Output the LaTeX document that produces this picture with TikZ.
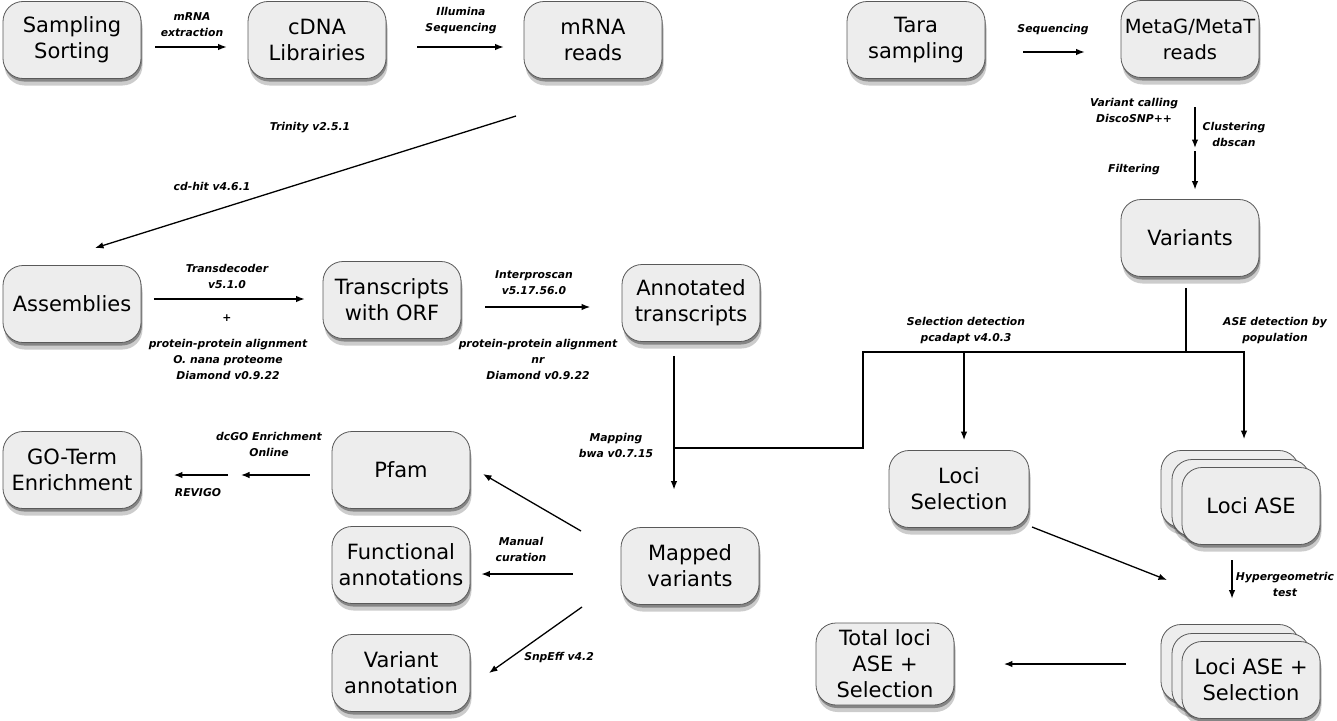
\documentclass[tikz,border=0pt]{standalone}
\usepackage{fontspec}
\setmainfont{DejaVu Sans}
\usetikzlibrary{arrows.meta,shadows}
\newcommand\boxfont{\fontsize{21}{26}\selectfont}
\newcommand\lblfont{\fontsize{10.8}{16}\selectfont\bfseries\itshape}
\begin{document}
\begin{tikzpicture}[x=1pt,y=-1pt,
  card/.style={draw=black!65, line width=0.8pt, fill=black!7, rounded corners=20pt,
    minimum width=138pt, minimum height=77pt, align=center, font=\boxfont, inner sep=0pt},
  box/.style={card,
    drop shadow={shadow xshift=1pt,shadow yshift=-3pt,opacity=0.35,fill=black},
    drop shadow={shadow xshift=1.5pt,shadow yshift=-7pt,opacity=0.2,fill=black}},
  lbl/.style={font=\lblfont, align=center, inner sep=0pt},
  arr/.style={-{Latex[length=8.5pt,width=6.5pt]}, line width=1.3pt},
  ln/.style={line width=1.3pt}]
\useasboundingbox (0,0) rectangle (1337,720);

% boxes
\node[box] (samp) at (72,40) {Sampling\\Sorting};
\node[box] (cdna) at (317,40) {cDNA\\Librairies};
\node[box] (mrna) at (593,40) {mRNA\\reads};
\node[box] (tara) at (916,40) {Tara\\sampling};
\node[box, font=\fontsize{19.5}{26}\selectfont] (metag) at (1190,39) {MetaG/MetaT\\reads};
\node[box] (variants) at (1190,238) {Variants};
\node[box] (assemb) at (72,304) {Assemblies};
\node[box] (trans) at (392,300) {Transcripts\\with ORF};
\node[box] (annot) at (691,303) {Annotated\\transcripts};
\node[box] (goterm) at (72,470) {GO-Term\\Enrichment};
\node[box] (pfam) at (401,470) {Pfam};
\node[box] (func) at (401,565) {Functional\\annotations};
\node[box] (varann) at (401,673) {Variant\\annotation};
\node[box] (mapped) at (690,566) {Mapped\\variants};
\node[box, minimum width=140pt] (locisel) at (959,489) {Loci\\Selection};
\node[box] (lociaseC) at (1230,489) {};
\node[box] (lociaseB) at (1241,498) {};
\node[box] (lociase) at (1251,506) {Loci ASE};
\node[box] (laseselC) at (1230,663) {};
\node[box] (laseselB) at (1241,672) {};
\node[box] (lasesel) at (1251,680) {Loci ASE +\\Selection};
\node[box, minimum height=82pt] (total) at (885,664) {Total loci\\ASE +\\Selection};

% helper coordinates
\coordinate (t1) at (516,116);
\coordinate (t2) at (95,248);
\coordinate (vmid) at (1195,149.5);
\coordinate (hub) at (1186,352);
\coordinate (bend) at (863,448);
\coordinate (join) at (674,448);
\coordinate (p1) at (581,531);
\coordinate (p2) at (483,474);
\coordinate (s1) at (582,607);
\coordinate (s2) at (489,673);
\coordinate (gmid) at (234.5,475);
\coordinate (q1) at (1032,527);
\coordinate (q2) at (1167,580);

% connectors
\draw[arr, shorten <=14pt, shorten >=21pt] ([yshift=-7pt]samp.east) -- ([yshift=-7pt]cdna.west);
\draw[arr, shorten <=31pt, shorten >=20pt] ([yshift=-7pt]cdna.east) -- ([yshift=-7pt]mrna.west);
\draw[arr] (t1) -- (t2);
\draw[arr, shorten <=38pt, shorten >=36pt] ([yshift=-12pt]tara.east) -- ([yshift=-13pt]metag.west);
\draw[arr, shorten <=29.5pt, shorten >=1.5pt] ([xshift=5pt]metag.south) -- (vmid);
\draw[arr, shorten <=1.5pt, shorten >=9.5pt] (vmid) -- ([xshift=5pt]variants.north);
\draw[ln, shorten <=11pt] ([xshift=-4pt]variants.south) -- (hub);
\draw[arr, shorten >=10pt] (hub) -| ([xshift=5pt]locisel.north);
\draw[arr, shorten >=28pt] (hub) -| ([xshift=-7pt]lociase.north);
\draw[ln] (hub) -| (bend) -- (join);
\draw[arr, shorten <=14pt, shorten >=37.5pt] ([xshift=-17pt]annot.south) -- ([xshift=-16pt]mapped.north);
\draw[arr] (p1) -- (p2);
\draw[arr, shorten <=48pt, shorten >=11pt] ([yshift=-8pt]mapped.west) -- ([yshift=-9pt]func.east);
\draw[arr] (s1) -- (s2);
\draw[arr, shorten <=22pt, shorten >=6.5pt] ([yshift=-5pt]pfam.west) -- (gmid);
\draw[arr, shorten <=6.5pt, shorten >=32.5pt] (gmid) -- ([yshift=-5pt]goterm.east);
\draw[arr, shorten <=12.5pt, shorten >=18pt] ([yshift=5pt]assemb.east) -- ([yshift=1pt]trans.west);
\draw[arr, shorten <=24pt, shorten >=31.5pt] ([yshift=-7pt]trans.east) -- ([yshift=-4pt]annot.west);
\draw[arr] (q1) -- (q2);
\draw[arr, shorten <=15.5pt, shorten >=42.5pt] ([xshift=-19pt]lociase.south) -- ([xshift=-19pt]lasesel.north);
\draw[arr, shorten <=55.5pt, shorten >=49.5pt] ([yshift=16pt]lasesel.west) -- (total.east);

% labels
\node[lbl] (l1) at (192,24.5) {mRNA\\extraction};
\node[lbl] (l2) at (461,21) {Illumina\\Sequencing};
\node[lbl] (l3) at (310,128) {Trinity v2.5.1};
\node[lbl] (l4) at (212,186) {cd-hit v4.6.1};
\node[lbl] (l5) at (1053,30) {Sequencing};
\node[lbl] (l6) at (1134,110.5) {Variant calling\\DiscoSNP++};
\node[lbl] (l7) at (1234,134) {Clustering\\dbscan};
\node[lbl] (l8) at (1134,170) {Filtering};
\node[lbl] (l9) at (227,276) {Transdecoder\\v5.1.0};
\node[lbl] (l10) at (227,318) {+};
\node[lbl] (l11) at (228,359.5) {protein-protein alignment\\O. nana proteome\\Diamond v0.9.22};
\node[lbl] (l12) at (534,283) {Interproscan\\v5.17.56.0};
\node[lbl] (l13) at (538,359.5) {protein-protein alignment\\nr\\Diamond v0.9.22};
\node[lbl] (l14) at (966,331) {Selection detection\\pcadapt v4.0.3};
\node[lbl] (l15) at (1275,331) {ASE detection by\\population};
\node[lbl] (l16) at (616,445) {Mapping\\bwa v0.7.15};
\node[lbl] (l17) at (269,444) {dcGO Enrichment\\Online};
\node[lbl] (l18) at (198,493) {REVIGO};
\node[lbl] (l19) at (521,549) {Manual\\curation};
\node[lbl] (l20) at (559,658) {SnpEff v4.2};
\node[lbl] (l21) at (1285,584.5) {Hypergeometric\\test};
\end{tikzpicture}
\end{document}
